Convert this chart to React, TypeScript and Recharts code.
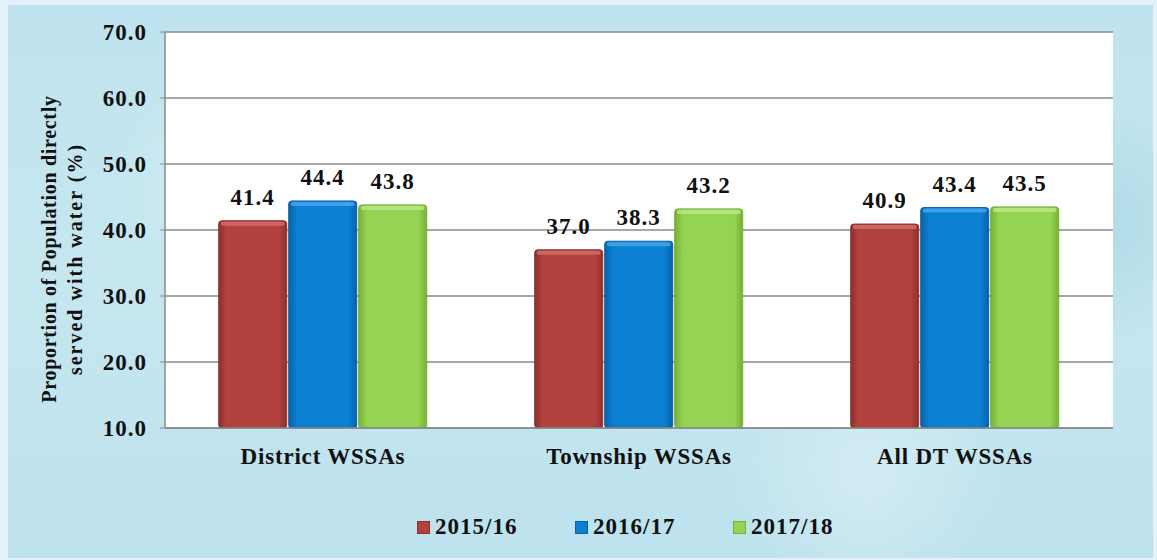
import React from 'react';
import { BarChart, Bar, XAxis, YAxis, CartesianGrid, Legend, LabelList } from 'recharts';

// Kategorien und Werte aus dem Diagramm
const categories = ['District WSSAs', 'Township WSSAs', 'All DT WSSAs'];
const y2015 = [41.4, 37.0, 40.9];
const y2016 = [44.4, 38.3, 43.4];
const y2017 = [43.8, 43.2, 43.5];
const seriesNames = ['2015/16', '2016/17', '2017/18'];
const yTicks = [10, 20, 30, 40, 50, 60, 70];

const data = categories.map((c, i) => ({
  category: c,
  s1: y2015[i],
  s2: y2016[i],
  s3: y2017[i],
}));

const COLORS = [
  { base: '#b3423f', light: '#d0706c', dark: '#8e302d' },
  { base: '#0b7fd2', light: '#4aa8ec', dark: '#0862a6' },
  { base: '#95d352', light: '#bce889', dark: '#74b034' },
];

const FONT = '"Liberation Serif", "Times New Roman", serif';

// Balken mit leichtem 3D-Effekt
const makeShape = (idx: number) => (props: any) => {
  const { x, y, width, height } = props;
  if (!height || height <= 0) return null;
  const c = COLORS[idx];
  return (
    <g>
      <rect x={x} y={y} width={width} height={height} rx={3} ry={3} fill={`url(#grad${idx})`} stroke={c.dark} strokeWidth={1} />
      <rect x={x + 2} y={y + 1} width={width - 4} height={4} rx={2} fill={c.light} opacity={0.8} />
    </g>
  );
};

const renderLegend = () => (
  <div style={{ position: 'relative', height: 24, fontFamily: FONT, fontWeight: 'bold', fontSize: 23, letterSpacing: 1 }}>
    {seriesNames.map((n, i) => (
      <div key={n} style={{ position: 'absolute', left: [0, 158, 316][i], top: 0, display: 'flex', alignItems: 'center', height: 24 }}>
        <span style={{ display: 'inline-block', width: 11, height: 11, background: COLORS[i].base, border: `1px solid ${COLORS[i].dark}`, marginRight: 5 }} />
        <span style={{ color: '#111' }}>{n}</span>
      </div>
    ))}
  </div>
);

const YLabel = () => (
  <g fontFamily={FONT} fontWeight="bold" fontSize={20} fill="#111">
    <text x={49} y={249} textAnchor="middle" dominantBaseline="central" letterSpacing={0.7} transform="rotate(-90 49 249)">
      Proportion of Population directly
    </text>
    <text x={75} y={259} textAnchor="middle" dominantBaseline="central" letterSpacing={2} transform="rotate(-90 75 259)">
      served with water (%)
    </text>
  </g>
);

export default function App() {
  return (
    <div style={{ position: 'absolute', left: 0, top: 0, width: 1157, height: 560, background: '#e3f1f8' }}>
      <div
        style={{
          position: 'absolute',
          left: 8,
          top: 5,
          width: 1145,
          height: 553,
          background:
            'radial-gradient(circle at 20% 30%, rgba(255,255,255,0.35) 0, rgba(255,255,255,0) 120px), radial-gradient(circle at 75% 85%, rgba(255,255,255,0.3) 0, rgba(255,255,255,0) 140px), radial-gradient(circle at 95% 40%, rgba(120,190,210,0.3) 0, rgba(120,190,210,0) 120px), linear-gradient(180deg, #bfe3ee 0%, #c6e7f0 50%, #bde2ed 100%)',
        }}
      />
      <div style={{ position: 'absolute', left: 0, top: 0 }}>
        <BarChart
          width={1157}
          height={560}
          data={data}
          margin={{ top: 32, right: 44, bottom: 21, left: 65 }}
          barCategoryGap="17%"
          barGap={2}
        >
          <defs>
            {COLORS.map((c, i) => (
              <linearGradient key={i} id={`grad${i}`} x1="0" y1="0" x2="1" y2="0">
                <stop offset="0%" stopColor={c.dark} />
                <stop offset="12%" stopColor={c.base} />
                <stop offset="88%" stopColor={c.base} />
                <stop offset="100%" stopColor={c.dark} />
              </linearGradient>
            ))}
          </defs>
          <CartesianGrid vertical={false} stroke="#8a8a8a" strokeWidth={1.5} fill="#ffffff" fillOpacity={1} />
          <XAxis
            dataKey="category"
            tickLine={false}
            tickSize={0}
            tickMargin={20}
            height={87}
            axisLine={{ stroke: '#8a8a8a', strokeWidth: 1.5 }}
            tick={{ fontFamily: FONT, fontWeight: 'bold', fontSize: 23, fill: '#111', letterSpacing: 0.8 }}
          />
          <YAxis
            domain={[10, 70]}
            ticks={yTicks}
            interval={0}
            width={100}
            tickSize={5}
            tickMargin={13}
            tickFormatter={(v: number) => v.toFixed(1)}
            axisLine={{ stroke: '#8a8a8a', strokeWidth: 1.5 }}
            tickLine={{ stroke: '#8a8a8a' }}
            tick={{ fontFamily: FONT, fontWeight: 'bold', fontSize: 23, fill: '#111', letterSpacing: 1 }}
            allowDataOverflow
          />
          {(['s1', 's2', 's3'] as const).map((k, i) => (
            <Bar key={k} dataKey={k} name={seriesNames[i]} fill={COLORS[i].base} shape={makeShape(i)} isAnimationActive={false}>
              <LabelList
                dataKey={k}
                position="top"
                offset={16}
                formatter={(v: any) => Number(v).toFixed(1)}
                style={{ fontFamily: FONT, fontWeight: 'bold', fontSize: 23, fill: '#111', letterSpacing: 1 }}
              />
            </Bar>
          ))}
          <Legend verticalAlign="bottom" content={renderLegend} wrapperStyle={{ left: 417, width: 430, bottom: 21 }} />
          <YLabel />
        </BarChart>
      </div>
    </div>
  );
}
